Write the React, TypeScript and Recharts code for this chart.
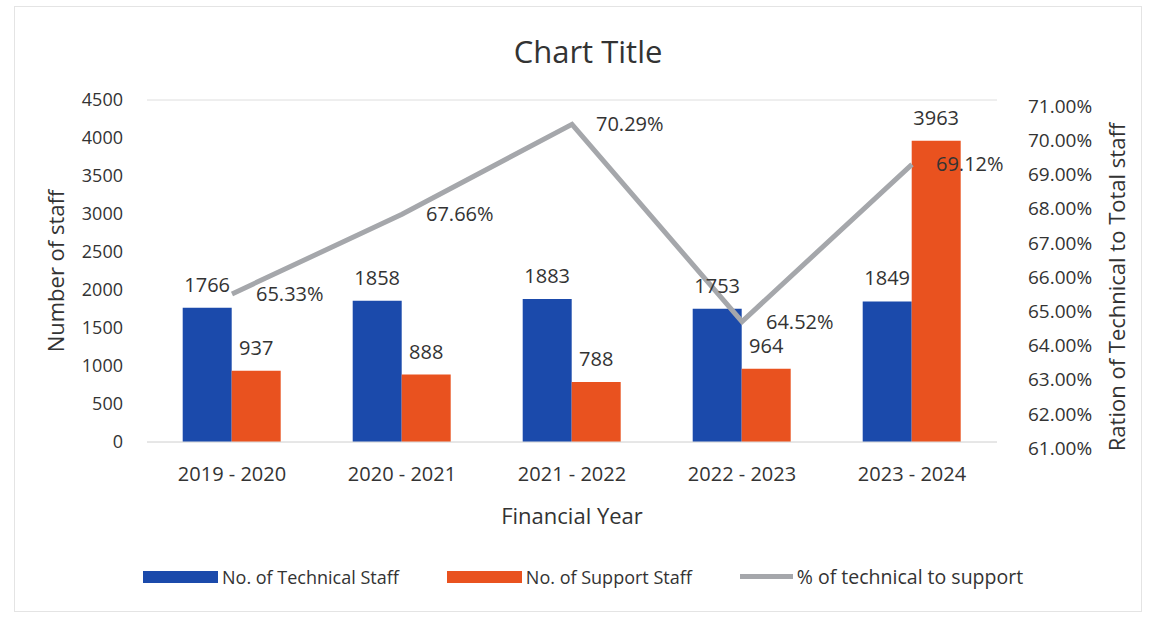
import { Bar, ComposedChart, CartesianGrid, LabelList, Legend, Line, XAxis, YAxis } from "recharts"

const years = ["2019 - 2020", "2020 - 2021", "2021 - 2022", "2022 - 2023", "2023 - 2024"]
const technicalStaff = [1766, 1858, 1883, 1753, 1849]
const supportStaff = [937, 888, 788, 964, 3963]
const ratioPct = [65.33, 67.66, 70.29, 64.52, 69.12]
const leftTicks = [0, 500, 1000, 1500, 2000, 2500, 3000, 3500, 4000, 4500]
const rightTicks = [61, 62, 63, 64, 65, 66, 67, 68, 69, 70, 71]

const data = years.map((year, i) => ({
  year,
  technical: technicalStaff[i],
  support: supportStaff[i],
  ratio: ratioPct[i],
}))

const FONT = "'Open Sans', 'Noto Sans', sans-serif"
const BLUE = "#1b4aab"
const ORANGE = "#e9521f"
const GREY = "#a5a7ab"
const TEXT = "#333333"

const legendItems = [
  { label: "No. of Technical Staff", color: BLUE, kind: "bar" },
  { label: "No. of Support Staff", color: ORANGE, kind: "bar" },
  { label: "% of technical to support", color: GREY, kind: "line" },
]

function ChartLegend() {
  return (
    <div style={{ display: "flex", alignItems: "center", fontFamily: FONT, fontSize: 18, color: TEXT }}>
      {legendItems.map((item, i) => (
        <div key={item.label} style={{ display: "flex", alignItems: "center", marginRight: i < 2 ? 48 : 0 }}>
          <span
            style={{
              display: "inline-block",
              width: item.kind === "bar" ? 75 : 53,
              height: item.kind === "bar" ? 12 : 5,
              background: item.color,
              marginRight: 4,
            }}
          />
          <span style={{ fontSize: item.kind === "line" ? 19.5 : 18 }}>{item.label}</span>
        </div>
      ))}
    </div>
  )
}

export default function App() {
  return (
    <div style={{ position: "absolute", left: 0, top: 0, width: 1156, height: 618, background: "#fff" }}>
      <div
        style={{
          position: "absolute",
          left: 14,
          top: 6,
          width: 1128,
          height: 606,
          border: "1px solid #e4e4e4",
          boxSizing: "border-box",
        }}
      />
      <div
        style={{
          position: "absolute",
          top: 30,
          left: 0,
          width: 1176,
          textAlign: "center",
          fontFamily: FONT,
          fontSize: 31,
          color: TEXT,
        }}
      >
        Chart Title
      </div>
      <ComposedChart
        width={1156}
        height={618}
        data={data}
        margin={{ top: 100, right: 0, left: 0, bottom: 0 }}
        barGap={0}
        barCategoryGap="21%"
        style={{ fontFamily: FONT }}
      >
        <CartesianGrid vertical={false} stroke="#dedede" />
        <XAxis
          dataKey="year"
          height={149}
          axisLine={{ stroke: "#dedede" }}
          tickLine={false}
          tickMargin={19}
          tick={{ fill: TEXT, fontSize: 20 }}
          label={{ value: "Financial Year", position: "insideTop", dy: 61, fill: TEXT, fontSize: 22 }}
        />
        <YAxis
          yAxisId="left"
          width={147}
          domain={[0, 4500]}
          ticks={leftTicks}
          axisLine={false}
          tickLine={false}
          tickMargin={18}
          tick={{ fill: TEXT, fontSize: 18 }}
          label={{ value: "Number of staff", angle: -90, position: "center", dx: -17, fill: TEXT, fontSize: 22 }}
        />
        <YAxis
          yAxisId="right"
          orientation="right"
          width={159}
          domain={[61, 71]}
          ticks={rightTicks}
          axisLine={false}
          tickLine={false}
          tickMargin={25}
          tickFormatter={(v: number) => `${v.toFixed(2)}%`}
          tick={{ fill: TEXT, fontSize: 19, dy: 6 }}
          label={{
            value: "Ration of Technical to Total staff",
            angle: -90,
            position: "center",
            dx: 41,
            dy: 16,
            fill: TEXT,
            fontSize: 22,
          }}
        />
        <Legend
          verticalAlign="bottom"
          align="left"
          wrapperStyle={{ left: 143, bottom: 28, width: 980 }}
          content={<ChartLegend />}
        />
        <Bar yAxisId="left" dataKey="technical" fill={BLUE} isAnimationActive={false}>
          <LabelList dataKey="technical" position="top" offset={16} fill={TEXT} fontSize={20} />
        </Bar>
        <Bar yAxisId="left" dataKey="support" fill={ORANGE} isAnimationActive={false}>
          <LabelList dataKey="support" position="top" offset={16} fill={TEXT} fontSize={20} />
        </Bar>
        <Line
          yAxisId="right"
          dataKey="ratio"
          stroke={GREY}
          strokeWidth={5}
          dot={false}
          type="linear"
          isAnimationActive={false}
        >
          <LabelList
            dataKey="ratio"
            position="right"
            offset={24}
            fill={TEXT}
            fontSize={20}
            formatter={(v: number) => `${v.toFixed(2)}%`}
          />
        </Line>
      </ComposedChart>
    </div>
  )
}
